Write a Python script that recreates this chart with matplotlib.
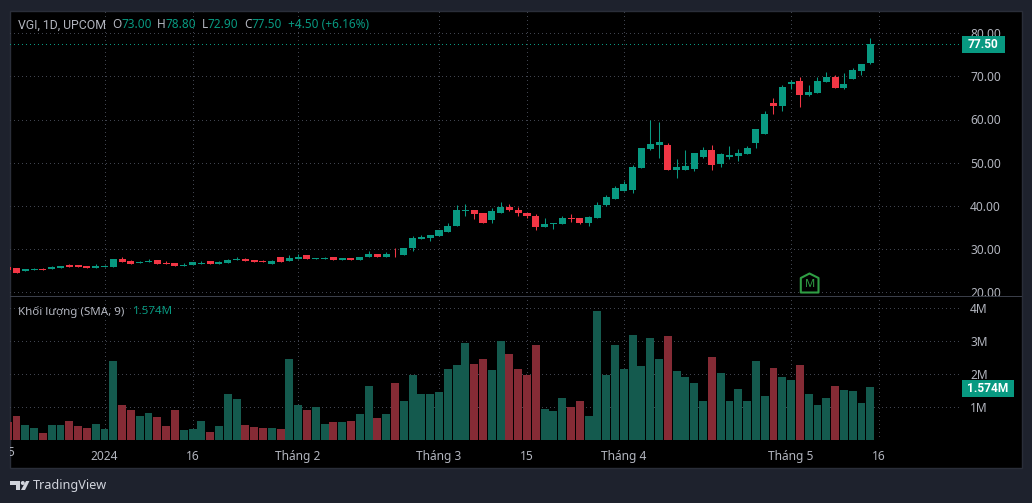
import matplotlib
matplotlib.use('Agg')
import matplotlib.pyplot as plt
from matplotlib.patches import Rectangle, Polygon, Circle
from matplotlib.transforms import Bbox, TransformedBbox, IdentityTransform

W, H = 1032, 503

opens = [25.67, 25.44, 24.74, 24.97, 25.2, 25.2, 25.44, 26.13, 26.13, 25.9,
         25.44, 25.67, 25.67, 27.53, 27.06, 26.6, 26.83, 27.3, 26.6, 26.6,
         25.9, 26.13, 26.37, 27.06, 26.37, 26.6, 27.3, 27.53, 27.3, 27.06,
         26.37, 28.0, 27.06, 27.53, 28.45, 27.53, 27.53, 28.0, 27.3, 27.76,
         27.3, 28.0, 28.9, 28.2, 28.9, 28.45, 30.08, 32.17, 32.4, 32.86,
         33.8, 35.4, 38.66, 39.1, 38.4, 36.6, 38.4, 39.8, 39.1, 38.4,
         37.7, 34.95, 35.65, 35.65, 37.04, 37.04, 35.9, 37.04, 40.17, 41.56,
         43.4, 43.65, 48.75, 53.16, 54.1, 54.1, 48.3, 48.3, 48.52, 51.3,
         52.93, 49.7, 51.3, 51.54, 52.0, 54.56, 56.64, 63.84, 63.14, 68.24,
         68.94, 65.7, 66.16, 68.7, 69.87, 67.3, 69.4, 71.26, 73.0]
highs = [25.67, 25.44, 25.2, 25.44, 25.44, 25.9, 25.9, 26.37, 26.13, 25.9,
         26.37, 26.13, 27.53, 28.0, 27.3, 27.06, 27.53, 27.3, 27.06, 26.6,
         26.6, 26.83, 27.06, 27.06, 27.06, 27.53, 28.2, 27.76, 27.3, 27.3,
         27.3, 28.0, 28.45, 28.7, 28.45, 27.76, 28.2, 28.0, 27.76, 27.76,
         28.2, 29.4, 28.9, 29.15, 30.1, 30.3, 32.86, 33.3, 33.1, 34.25,
         36.1, 40.05, 40.5, 39.1, 38.4, 39.36, 40.75, 40.3, 39.6, 38.4,
         37.97, 37.04, 36.0, 37.5, 37.97, 37.04, 37.5, 40.75, 42.5, 44.58,
         45.74, 49.45, 53.4, 59.9, 59.43, 54.56, 50.84, 52.93, 52.24, 53.63,
         54.1, 52.24, 53.86, 53.16, 53.86, 57.8, 62.0, 65.0, 68.0, 69.2,
         69.87, 68.0, 69.87, 71.0, 70.33, 70.8, 72.0, 72.9, 78.8]
lows = [24.97, 24.5, 24.74, 24.97, 24.97, 25.2, 25.44, 25.67, 25.67, 25.44,
        25.44, 25.67, 25.67, 26.83, 26.37, 26.6, 26.83, 26.37, 26.37, 25.9,
        25.9, 26.13, 26.37, 26.37, 26.37, 26.6, 27.3, 27.06, 26.83, 26.83,
        26.37, 26.83, 27.06, 27.53, 27.53, 27.53, 27.53, 27.3, 27.3, 27.3,
        27.3, 28.0, 28.2, 28.2, 28.2, 28.45, 29.6, 32.17, 31.7, 32.86,
        33.8, 35.4, 37.5, 36.8, 35.9, 35.9, 38.4, 38.66, 37.7, 37.04,
        34.25, 34.95, 34.7, 35.65, 36.3, 35.65, 35.4, 37.04, 39.94, 41.56,
        43.4, 42.95, 48.75, 52.93, 51.07, 48.3, 46.43, 48.3, 48.06, 51.07,
        48.3, 49.0, 50.84, 50.38, 52.0, 53.4, 56.64, 61.3, 62.0, 67.1,
        62.9, 65.46, 66.16, 68.7, 67.3, 67.1, 69.4, 70.33, 72.9]
closes = [24.97, 24.5, 25.2, 25.2, 24.97, 25.67, 25.9, 25.67, 25.67, 25.44,
          25.9, 25.9, 27.53, 26.83, 26.37, 26.83, 27.06, 26.37, 26.37, 25.9,
          26.13, 26.83, 26.6, 26.37, 26.83, 27.3, 27.53, 27.06, 26.83, 26.83,
          27.06, 26.83, 27.76, 28.2, 27.53, 27.76, 27.76, 27.3, 27.76, 27.3,
          28.2, 28.9, 28.2, 28.9, 28.7, 30.3, 32.4, 32.63, 33.1, 34.25,
          35.4, 38.9, 39.1, 38.0, 35.9, 38.66, 39.8, 38.9, 38.2, 37.5,
          34.95, 35.65, 36.0, 37.04, 36.8, 35.9, 37.27, 40.05, 42.03, 44.1,
          45.04, 49.0, 53.4, 54.3, 54.8, 48.3, 49.0, 49.2, 52.24, 52.93,
          49.45, 52.0, 51.77, 52.24, 53.4, 57.8, 61.3, 63.14, 67.55, 68.8,
          65.7, 66.4, 68.94, 69.87, 67.3, 68.24, 71.5, 72.9, 77.5]
volumes = [0.55, 0.73, 0.45, 0.36, 0.21, 0.45, 0.45, 0.58, 0.42, 0.36,
           0.48, 0.33, 2.39, 1.06, 0.91, 0.73, 0.82, 0.70, 0.42, 0.91,
           0.30, 0.33, 0.58, 0.24, 0.42, 1.39, 1.24, 0.45, 0.39, 0.36,
           0.36, 0.33, 2.45, 1.06, 0.91, 1.0, 0.48, 0.55, 0.55, 0.58,
           0.79, 1.64, 0.67, 0.79, 1.73, 1.18, 1.97, 1.39, 1.39, 1.45,
           2.15, 2.27, 2.94, 2.3, 2.45, 2.12, 3.0, 2.6, 2.15, 1.97,
           2.88, 0.94, 0.88, 1.27, 1.0, 1.18, 0.73, 3.91, 1.97, 2.88,
           2.15, 3.18, 2.24, 3.09, 2.45, 3.15, 2.09, 1.91, 1.73, 1.18,
           2.52, 2.03, 1.18, 1.55, 1.18, 2.39, 1.33, 2.18, 1.91, 1.82,
           2.27, 1.39, 1.06, 1.27, 1.64, 1.52, 1.48, 1.12, 1.61]

price_ticks = [20, 30, 40, 50, 60, 70, 80]
volume_ticks = [1, 2, 3, 4]
date_ticks = [11, 21, 33, 49, 59, 70, 89, 99]
date_labels = ['2024', '16', 'Tháng 2', 'Tháng 3', '15', 'Tháng 4', 'Tháng 5', '16']
last_close = 77.5
last_volume = 1.574

GREEN = '#089981'
RED = '#f23645'
VOL_GREEN = '#145a4e'
VOL_RED = '#852b35'
TEXT = '#b2b5be'
GRID = '#40444f'
BG = '#1e222d'
BORDER = '#2a2e39'

plt.rcParams['font.family'] = ['Noto Sans', 'DejaVu Sans']

fig = plt.figure(figsize=(W / 100, H / 100), dpi=100, facecolor=BG)


def px_rect(x0, y0, x1, y1, **kw):
    r = Rectangle((x0, H - y1), x1 - x0, y1 - y0, transform=IdentityTransform(), **kw)
    fig.add_artist(r)
    return r


def px_poly(points, **kw):
    p = Polygon([(x, H - y) for x, y in points], closed=True, transform=IdentityTransform(), **kw)
    fig.add_artist(p)
    return p


def px_text(x, y, s, **kw):
    kw.setdefault('fontsize', 8.5)
    kw.setdefault('va', 'center')
    return fig.text(x / W, 1 - y / H, s, **kw)


def make_axes(top, bottom):
    return fig.add_axes([10 / W, 1 - bottom / H, (961.5 - 10) / W, (bottom - top) / H], facecolor='none')


# black panel behind both panes
px_rect(10, 10.5, 1022, 467.5, facecolor='black', edgecolor=BORDER, linewidth=1, zorder=-1)

ax = make_axes(11, 296)
ax_vol = make_axes(296, 440)

# x position of bar i is 16.5 + 8.802 * (i - 1) px
xlim = ((10 - 16.5) / 8.802 + 1, (961.5 - 16.5) / 8.802 + 1)
idx = list(range(len(closes)))

up = [c >= o for o, c in zip(opens, closes)]
colors = [GREEN if u else RED for u in up]
vol_colors = [VOL_GREEN if u else VOL_RED for u in up]

# candles
ax.vlines(idx, lows, highs, colors=colors, linewidth=0.75, zorder=3)
ax.bar(idx, [abs(c - o) for o, c in zip(opens, closes)], bottom=[min(o, c) for o, c in zip(opens, closes)],
       width=0.8, color=colors, linewidth=0, zorder=4)
ax.axhline(last_close, color=GREEN, linewidth=0.72, linestyle=(0, (1, 3)), antialiased=False, zorder=5)

ax.set_xlim(xlim)
ax.set_ylim(80 - (296 - 33.3) / 4.31, 80 + (33.3 - 11) / 4.31)
ax.set_yticks(price_ticks)
ax.set_yticklabels(['%.2f' % t for t in price_ticks])

# volume
ax_vol.bar(idx, volumes, width=0.9, color=vol_colors, linewidth=0, zorder=3)
ax_vol.set_xlim(xlim)
ax_vol.set_ylim(0, (440 - 296) / 33)
ax_vol.set_yticks(volume_ticks)
ax_vol.set_yticklabels(['%dM' % t for t in volume_ticks])

for a in (ax, ax_vol):
    for s in a.spines.values():
        s.set_visible(False)
    a.yaxis.tick_right()
    a.set_xticks(date_ticks)
    a.grid(True, color=GRID, linewidth=0.72, linestyle=(0, (1, 3.2)), antialiased=False, zorder=0)
    a.set_axisbelow(True)
    a.tick_params(axis='y', length=0, pad=6.2, labelcolor=TEXT, labelsize=8.6)
    a.tick_params(axis='x', length=0, pad=7, labelcolor=TEXT, labelsize=8.6)

ax.set_xticklabels([])
ax_vol.set_xticklabels(date_labels)
ax_vol.get_xticklabels()[0].set_fontweight('bold')

# the date label cut by the left edge of the panel
cut = px_text(8.5, 453, '25', ha='center', color=TEXT, fontsize=8.6)
cut.set_clip_on(True)
cut.set_clip_box(TransformedBbox(Bbox([[10, 0], [W, H]]), IdentityTransform()))

# line between price and volume panes
px_rect(10, 295.6, 1022, 296.6, facecolor='#3a3e49', linewidth=0, zorder=2)

# last value tags
px_rect(962, 36, 1004.7, 52.7, facecolor=GREEN, linewidth=0, zorder=5)
px_text(983.3, 44.3, '%.2f' % last_close, ha='center', color='white', fontsize=8.6, fontweight='bold',
        family='Roboto', zorder=6)
px_rect(962, 380, 1014, 396.7, facecolor=GREEN, linewidth=0, zorder=5)
px_text(988, 388.2, '%.3fM' % last_volume, ha='center', color='white', fontsize=8.6, fontweight='bold',
        family='Roboto', zorder=6)

# header
px_text(18, 25, 'VGI, 1D, UPCOM', color=TEXT, family='Roboto', fontsize=8.8)
for x, s, c in [(112, 'O', TEXT), (121, '73.00', GREEN), (157, 'H', TEXT), (166, '78.80', GREEN),
                (201.5, 'L', TEXT), (208, '72.90', GREEN), (244, 'C', TEXT), (252, '77.50', GREEN),
                (288, '+4.50 (+6.16%)', GREEN)]:
    px_text(x, 25, s, color=c)

px_text(18, 312, 'Khối lượng (SMA, 9)', color=TEXT, fontsize=8.3)
px_text(133, 312, '1.574M', color=GREEN, fontsize=8.3)

# M marker
px_poly([(809.5, 273.5), (818.5, 278), (818.5, 292.5), (800.8, 292.5), (800.8, 278)],
        facecolor='black', edgecolor='#2f9e44', linewidth=1.5, joinstyle='round', zorder=6)
px_text(809.6, 284.5, 'M', ha='center', color='#2f9e44', fontsize=8, fontweight='bold', zorder=7)

# TradingView logo
logo = '#d1d4dc'
px_poly([(10, 481), (20, 481), (20, 490), (15.5, 490), (15.5, 485), (10, 485)], facecolor=logo, linewidth=0)
px_poly([(26, 481), (29.5, 481), (25, 490), (21, 490)], facecolor=logo, linewidth=0)
fig.add_artist(Circle((22.8, H - 483), 2, transform=IdentityTransform(), facecolor=logo, linewidth=0))
px_text(33, 485.5, 'TradingView', color=logo, fontsize=9.1)

fig.savefig('out.png', dpi=100, facecolor=BG)
